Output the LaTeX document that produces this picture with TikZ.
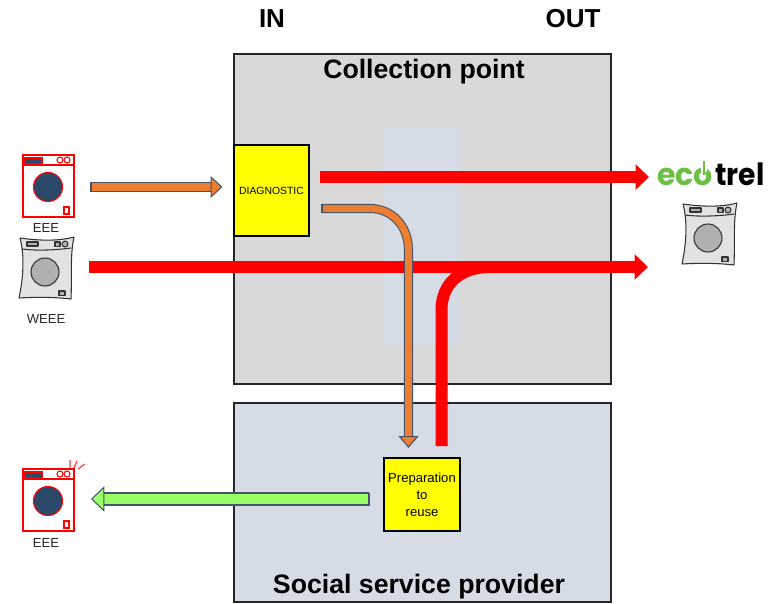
\documentclass[tikz,border=0pt]{standalone}
\usepackage{fontspec}
\setmainfont{Liberation Sans}
\newfontfamily\logofont{Poppins}
\usetikzlibrary{arrows.meta,calc}
\definecolor{panelgray}{HTML}{D9D9D9}
\definecolor{panelblue}{HTML}{D6DCE5}
\definecolor{orangefill}{HTML}{ED7D31}
\definecolor{navyline}{HTML}{44546A}
\definecolor{greenfill}{HTML}{99FF66}
\definecolor{drumblue}{HTML}{2B4A6B}
\definecolor{logogreen}{HTML}{6DBE45}
\definecolor{machgray}{HTML}{E2E2E2}
\definecolor{drumgray}{HTML}{B0B0B0}
\definecolor{boxyellow}{RGB}{255,255,0}
\definecolor{flowred}{RGB}{255,0,0}
\tikzset{
  panel/.style={draw=black!85,line width=1.1pt,anchor=north west,inner sep=0pt,outer sep=0pt},
  yellowbox/.style={draw=black,fill=boxyellow,line width=1.5pt,anchor=north west,inner sep=0pt,outer sep=0pt,align=center},
  headline/.style={font=\bfseries\fontsize{19.5}{22}\selectfont,inner sep=0pt},
  paneltitle/.style={font=\bfseries\fontsize{20}{23}\selectfont,inner sep=0pt},
  iconlabel/.style={font=\fontsize{9.8}{12}\selectfont,inner sep=0pt,text=black!85},
  redarrow/.style={draw=flowred,line width=9pt,-{Triangle[length=10pt,width=18.5pt,fill=flowred,color=flowred]}},
  redflow/.style={draw=flowred,line width=9pt},
  orangearrow/.style={draw=navyline,double=orangefill,line width=0.8pt,double distance=6.6pt,
     -{Triangle[length=9pt,width=16.5pt,fill=orangefill,color=navyline,line width=0.8pt]}},
  orangebend/.style={draw=navyline,double=orangefill,line width=0.8pt,double distance=5.2pt,
     -{Triangle[length=9pt,width=15pt,fill=orangefill,color=navyline,line width=0.8pt]}},
  greenarrow/.style={draw=navyline,double=greenfill,line width=0.8pt,double distance=8.2pt,
     -{Triangle[length=10pt,width=19pt,fill=greenfill,color=navyline,line width=0.8pt]}},
  sketch/.style={draw=black!80,line width=0.8pt,line join=round},
  redicon/.style={draw=flowred,line width=0.8pt},
  newmachine/.pic={
    \draw[redicon,fill=white] (0,0) rectangle (51,62);
    \draw[redicon] (0,10) -- (51,10);
    \draw[redicon,fill=drumblue] (2,3) rectangle (19,8.5);
    \draw[redicon] (37,5) circle (3);
    \draw[redicon] (44,5) circle (3);
    \draw[redicon,fill=drumblue] (25,32) circle (14.5);
    \draw[redicon,fill=white] (41,52) rectangle (46,59);
  },
  oldmachine/.pic={
    \draw[sketch,fill=machgray] (0,1) .. controls (14,3) and (36,5) .. (54,0)
       .. controls (50,18) and (52,40) .. (51,62)
       .. controls (34,60) and (16,60) .. (-1,61)
       .. controls (3,42) and (5,20) .. (0,1) -- cycle;
    \draw[sketch] (2,12) .. controls (18,14) and (36,13) .. (51,11);
    \draw[sketch,fill=drumgray] (7,5) rectangle (18,9);
    \draw[sketch,fill=drumgray] (35,5) rectangle (40,9.5);
    \draw[sketch,fill=drumgray] (45,7) circle (3);
    \draw[sketch,fill=drumgray] (25,35) circle (14);
    \draw[sketch,fill=drumgray] (39,54) rectangle (45,58.5);
  }
}
\begin{document}
\begin{tikzpicture}[x=0.75pt,y=-0.75pt]
\useasboundingbox (0,0) rectangle (769,604);
% panels
\node[panel,fill=panelgray,minimum width=282.75pt,minimum height=247.5pt] (collect) at (234,54) {};
\node[panel,fill=panelblue,minimum width=282.75pt,minimum height=149.25pt] (social) at (234,403) {};
\node[anchor=north west,fill=panelblue,inner sep=0pt,outer sep=0pt,minimum width=57pt,minimum height=162.75pt] (pale) at (384,128) {};
\node[headline] (in) at (272,19) {IN};
\node[headline] (out) at (573,19) {OUT};
\node[paneltitle] (ctitle) at (424,72) {Collection point};
\node[paneltitle] (stitle) at (419,587) {Social service provider};
% boxes
\node[yellowbox,minimum width=56.25pt,minimum height=68.25pt,font=\fontsize{7.8}{9}\selectfont] (diag) at (234,145) {DIAGNOSTIC};
\node[yellowbox,minimum width=57pt,minimum height=54.75pt,font=\fontsize{9.8}{12.7}\selectfont] (prep) at (384,458) {Preparation\\to\\reuse};
% icons
\pic at (23,155) {newmachine};
\node[iconlabel] (eee1) at (46,228) {EEE};
\pic at (20,237) {oldmachine};
\node[iconlabel] (weee) at (46,319) {WEEE};
\pic at (23,469) {newmachine};
\node[iconlabel] (eee2) at (46,543) {EEE};
\draw[flowred!75,line width=0.9pt] (70,468) -- (70,460) (74,468) -- (77,461) (78,469) -- (85,464);
\pic at (683,203) {oldmachine};
% logo
\node[anchor=base west,inner sep=0pt,text=logogreen,xscale=0.98,font=\logofont\bfseries\fontsize{23}{26}\selectfont] (logoa) at (657,185) {eco};
\node[anchor=base west,inner sep=0pt,text=black,xscale=0.92,font=\logofont\bfseries\fontsize{23}{26}\selectfont] (logob) at (715,185) {trel};
\fill[white] (701,162) rectangle (707,172);
\draw[logogreen,line width=2pt] (704,161) -- (704,175);
% connector ends
\coordinate (a1) at (91,187);   \coordinate (a2) at (222.5,187);
\coordinate (r1) at (320,177);  \coordinate (r2) at (649,177);
\coordinate (w1) at (89,267);   \coordinate (w2) at (648,267);
\coordinate (o1) at (322,208.5);\coordinate (o2) at (408.5,448);
\coordinate (p1) at (441.5,446);\coordinate (p2) at (490,267);
\coordinate (g1) at (369,499);  \coordinate (g2) at (91,499);
% connectors
\draw[redarrow] (r1) -- (r2);
\draw[redarrow] (w1) -- (w2);
\draw[redflow] (p1) -- (441.5,310) .. controls (441.5,284) and (460,267) .. (p2);
\draw[orangearrow] (a1) -- (a2);
\draw[navyline,line width=0.8pt] (91,182) -- (91,192);
\draw[orangebend] (o1) -- (370,208.5) .. controls (392,208.5) and (408.5,226) .. (408.5,250) -- (o2);
\draw[navyline,line width=0.8pt] (322,204) -- (322,213);
\draw[greenarrow] (g1) -- (g2);
\draw[navyline,line width=0.8pt] (369,492.5) -- (369,505.5);
\end{tikzpicture}
\end{document}
